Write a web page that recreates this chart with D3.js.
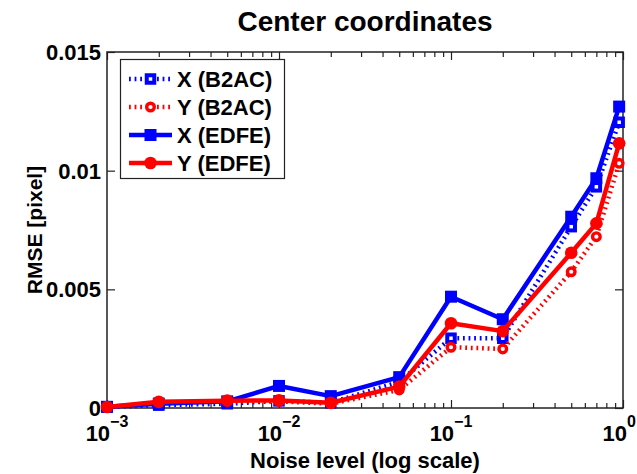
<!DOCTYPE html>
<html>
<head>
<meta charset="utf-8">
<script src="https://cdn.jsdelivr.net/npm/d3@7"></script>
<style>
  body { margin: 0; background: #fff; }
  text { font-family: "Liberation Sans", Arial, Helvetica, sans-serif; font-weight: bold; fill: #000; }
</style>
</head>
<body>
<svg id="chart" width="637" height="474"></svg>
<script>
// Noise levels (x) and RMSE of the estimated centre coordinates (y)
const noiseLevels = [0.001, 0.002, 0.005, 0.01, 0.02, 0.05, 0.1, 0.2, 0.5, 0.7, 0.95];
const xB2AC = [0.00004, 0.00012, 0.00018, 0.00030, 0.00022, 0.00110, 0.00294, 0.00294, 0.00764, 0.00932, 0.01204];
const yB2AC = [0.00003, 0.00020, 0.00028, 0.00028, 0.00018, 0.00076, 0.00256, 0.00249, 0.00574, 0.00722, 0.01031];
const xEDFE = [0.00005, 0.00018, 0.00028, 0.00093, 0.00050, 0.00130, 0.00469, 0.00374, 0.00806, 0.00968, 0.01270];
const yEDFE = [0.00004, 0.00026, 0.00031, 0.00032, 0.00022, 0.00090, 0.00357, 0.00324, 0.00654, 0.00778, 0.01115];

const seriesNames = ["X (B2AC)", "Y (B2AC)", "X (EDFE)", "Y (EDFE)"];
const yTickValues = [0, 0.005, 0.01, 0.015];
const yTickLabels = ["0", "0.005", "0.01", "0.015"];
const xMajorTicks = [0.001, 0.01, 0.1, 1];
const xTickExponents = ["\u22123", "\u22122", "\u22121", "0"];

const titleText = "Center coordinates";
const xLabelText = "Noise level (log scale)";
const yLabelText = "RMSE [pixel]";

const series = [
  { name: seriesNames[0], values: xB2AC, color: "#0000ff", dotted: true,  marker: "square" },
  { name: seriesNames[1], values: yB2AC, color: "#ff0000", dotted: true,  marker: "circle" },
  { name: seriesNames[2], values: xEDFE, color: "#0000ff", dotted: false, marker: "square" },
  { name: seriesNames[3], values: yEDFE, color: "#ff0000", dotted: false, marker: "circle" }
];

const width = 637;
const svg = d3.select("#chart");
const plotLeft = 107, plotRight = 623, plotTop = 52, plotBottom = 408;

const x = d3.scaleLog().domain([0.001, 1]).range([plotLeft, plotRight]);
const y = d3.scaleLinear().domain([0, 0.015]).range([plotBottom, plotTop]);

// minor ticks of the log axis: 2..9 in each decade
const minorTicks = [];
for (let e = -3; e < 0; e++) for (let k = 2; k <= 9; k++) minorTicks.push(k * Math.pow(10, e));

const axisColor = "#222";
function styleAxis(g) {
  g.select(".domain").remove();
  g.selectAll(".tick text").remove();
  g.selectAll(".tick line").attr("stroke", axisColor).attr("stroke-width", 1.2);
}

// inward ticks on all four sides
svg.append("g").attr("transform", `translate(0,${plotBottom})`)
  .call(d3.axisBottom(x).tickValues(xMajorTicks).tickSize(-8)).call(styleAxis);
svg.append("g").attr("transform", `translate(0,${plotBottom})`)
  .call(d3.axisBottom(x).tickValues(minorTicks).tickSize(-5)).call(styleAxis);
svg.append("g").attr("transform", `translate(0,${plotTop})`)
  .call(d3.axisTop(x).tickValues(xMajorTicks).tickSize(-8)).call(styleAxis);
svg.append("g").attr("transform", `translate(0,${plotTop})`)
  .call(d3.axisTop(x).tickValues(minorTicks).tickSize(-5)).call(styleAxis);
svg.append("g").attr("transform", `translate(${plotLeft},0)`)
  .call(d3.axisLeft(y).tickValues(yTickValues).tickSize(-8)).call(styleAxis);
svg.append("g").attr("transform", `translate(${plotRight},0)`)
  .call(d3.axisRight(y).tickValues(yTickValues).tickSize(-8)).call(styleAxis);

// axes box
svg.append("rect")
  .attr("x", plotLeft).attr("y", plotTop)
  .attr("width", plotRight - plotLeft).attr("height", plotBottom - plotTop)
  .attr("fill", "none").attr("stroke", axisColor).attr("stroke-width", 1.5);

// y tick labels
svg.append("g").selectAll("text")
  .data(yTickValues)
  .join("text")
  .attr("x", plotLeft - 6)
  .attr("y", d => y(d))
  .attr("dy", "0.36em")
  .attr("text-anchor", "end")
  .attr("font-size", 22)
  .text((d, i) => yTickLabels[i]);

// x tick labels: powers of ten, kept inside the canvas at the right edge
const xLab = svg.append("g").selectAll("text")
  .data(xMajorTicks)
  .join("text")
  .attr("x", d => x(d))
  .attr("y", 441)
  .attr("text-anchor", "middle")
  .attr("font-size", 22)
  .text("10");
xLab.append("tspan")
  .attr("dy", -14)
  .attr("font-size", 16)
  .text((d, i) => xTickExponents[i]);
xLab.each(function (d) {
  const w = this.getComputedTextLength();
  const cx = Math.min(x(d), width - 1 - w / 2);
  d3.select(this).attr("x", cx);
});

// title and axis labels
svg.append("text").attr("x", (plotLeft + plotRight) / 2).attr("y", 31)
  .attr("text-anchor", "middle").attr("font-size", 28).text(titleText);
svg.append("text").attr("x", (plotLeft + plotRight) / 2).attr("y", 468)
  .attr("text-anchor", "middle").attr("font-size", 22).text(xLabelText);
svg.append("text")
  .attr("transform", `translate(42,${(plotTop + plotBottom) / 2}) rotate(-90)`)
  .attr("text-anchor", "middle").attr("font-size", 21).text(yLabelText);

// line + marker drawing helpers
const line = d3.line().x(d => x(d[0])).y(d => y(d[1]));

function drawMarker(g, type, color, hollow, cx, cy) {
  if (type === "square") {
    const s = hollow ? 7.5 : 12;
    g.append("rect")
      .attr("x", cx - s / 2).attr("y", cy - s / 2)
      .attr("width", s).attr("height", s)
      .attr("fill", hollow ? "#fff" : color)
      .attr("stroke", color).attr("stroke-width", hollow ? 4 : 0);
  } else {
    g.append("circle")
      .attr("cx", cx).attr("cy", cy)
      .attr("r", hollow ? 3.8 : 6.3)
      .attr("fill", hollow ? "#fff" : color)
      .attr("stroke", color).attr("stroke-width", hollow ? 3.4 : 0);
  }
}

const plot = svg.append("g");
series.forEach(s => {
  const pts = noiseLevels.map((n, i) => [n, s.values[i]]);
  const g = plot.append("g");
  g.append("path")
    .attr("d", line(pts))
    .attr("fill", "none")
    .attr("stroke", s.color)
    .attr("stroke-width", 4.5)
    .attr("stroke-dasharray", s.dotted ? "1.8 3.8" : null)
    .attr("stroke-linejoin", "round");
  pts.forEach(p => drawMarker(g, s.marker, s.color, s.dotted, x(p[0]), y(p[1])));
});

// legend
const leg = svg.append("g");
leg.append("rect")
  .attr("x", 120.5).attr("y", 59.5).attr("width", 164).attr("height", 119)
  .attr("fill", "#fff").attr("stroke", axisColor).attr("stroke-width", 1.2);
series.forEach((s, i) => {
  const ry = 79 + i * 28;
  const g = leg.append("g");
  g.append("line")
    .attr("x1", 129).attr("x2", 172).attr("y1", ry).attr("y2", ry)
    .attr("stroke", s.color).attr("stroke-width", 4.5)
    .attr("stroke-dasharray", s.dotted ? "1.8 3.8" : null);
  drawMarker(g, s.marker, s.color, s.dotted, 150.5, ry);
  g.append("text")
    .attr("x", 177).attr("y", ry).attr("dy", "0.36em")
    .attr("font-size", 22).text(s.name);
});
</script>
</body>
</html>
